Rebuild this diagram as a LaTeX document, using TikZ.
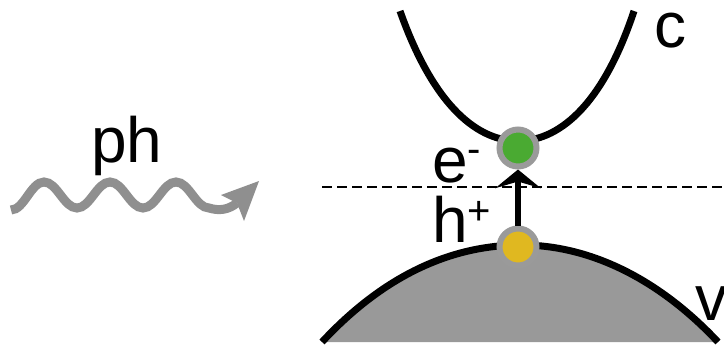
\documentclass[tikz,border=0pt]{standalone}
\usepackage{fontspec}
\setmainfont{Liberation Sans}
\usetikzlibrary{arrows.meta}
\definecolor{bandgray}{HTML}{999999}
\definecolor{wavegray}{HTML}{8F8F8F}
\definecolor{egreen}{HTML}{4AAA32}
\definecolor{hyellow}{HTML}{E0B820}
\definecolor{ringgray}{HTML}{9A9A9A}
\begin{document}
\begin{tikzpicture}[x=0.75pt,y=-0.75pt,
  bandline/.style={line width=5.25pt},
  dot/.style={circle, draw=ringgray, line width=4.5pt, minimum size=27.75pt, inner sep=0pt},
  lbl/.style={font=\fontsize{48}{48}\selectfont, inner sep=0pt},
  wave/.style={draw=wavegray, line width=6.75pt},
  exc/.style={line width=5pt, -{Stealth[length=14pt,width=34pt,inset=5pt]}}]
\useasboundingbox (0,0) rectangle (724,344);
% dashed level
\coordinate (dl) at (322,187);
\coordinate (dr) at (724,187);
\draw[line width=1.3pt, dash pattern=on 7.5pt off 3.75pt] (dl) -- (dr);
% valence band
\fill[bandgray] (322,342) .. controls (375,285) and (440,246) .. (518,245)
  .. controls (590,244) and (660,280) .. (718,342) -- cycle;
\draw[bandline] (322,342) .. controls (375,285) and (440,246) .. (518,245)
  .. controls (590,244) and (660,280) .. (718,342);
% conduction band
\draw[bandline] (400,11) .. controls (435,110) and (480,141) .. (518,141)
  .. controls (556,141) and (601,110) .. (634,11);
% carriers
\node[dot, fill=egreen] (e) at (518,148) {};
\node[dot, fill=hyellow] (h) at (518,247) {};
\draw[exc] (h.north) -- (e.south);
% photon
\coordinate (ws) at (11,210);
\coordinate (wi) at (237,203);
\coordinate (wt) at (259,181);
\draw[wave] (ws) .. controls (24,210) and (31,182) .. (44,182)
  .. controls (57,182) and (64,208) .. (77,208)
  .. controls (90,208) and (97,182) .. (110,182)
  .. controls (123,182) and (130,208) .. (143,208)
  .. controls (156,208) and (163,182) .. (176,182)
  .. controls (189,182) and (196,208) .. (209,208)
  .. controls (219,211) and (228,210) .. (wi);
\fill[wavegray] (wt) -- (221,195) -- (wi) -- (244,221) -- cycle;
% labels
\node[lbl, anchor=base] (ph) at (127,162) {ph};
\node[lbl, anchor=base] (c) at (670,47) {c};
\node[lbl, anchor=base west] (v) at (695,320) {v};
\node[lbl, anchor=base west] (el) at (432,182) {e\raisebox{15pt}{\fontsize{30}{30}\selectfont -}};
\node[lbl, anchor=base west] (hl) at (432,242) {h\raisebox{13pt}{\fontsize{30}{30}\selectfont +}};
\end{tikzpicture}
\end{document}
